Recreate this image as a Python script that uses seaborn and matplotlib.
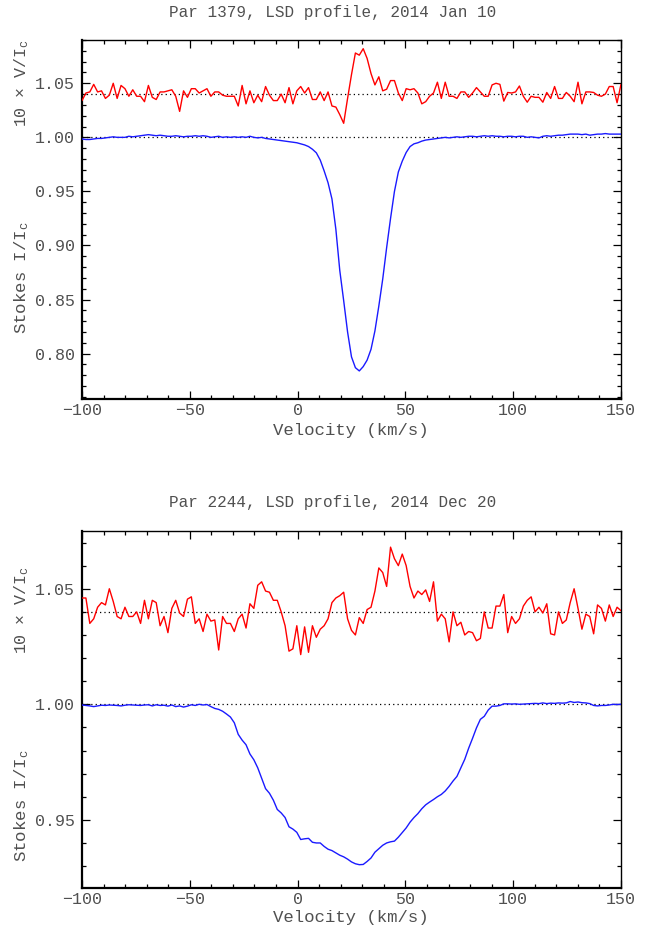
import numpy as np
import pandas as pd
import matplotlib
matplotlib.use("Agg")
import matplotlib.pyplot as plt
import seaborn as sns
from matplotlib.ticker import MultipleLocator, FormatStrFormatter

# ---------------- data ----------------
velocity = np.linspace(-100, 150, 139)   # km/s, LSD velocity grid

titles = ["Par 1379, LSD profile, 2014 Jan 10",
          "Par 2244, LSD profile, 2014 Dec 20"]

stokes_i_1 = [
    0.9985, 0.998, 0.998, 0.9985, 0.999, 0.999, 0.9995, 1.000, 1.0005, 1.000,
    1.000, 1.000, 1.001, 1.0005, 1.001, 1.0015, 1.002, 1.0025, 1.002, 1.0015,
    1.002, 1.0015, 1.001, 1.001, 1.0015, 1.001, 1.0005, 1.001, 1.001, 1.0015,
    1.001, 1.0015, 1.001, 1.000, 1.0005, 1.001, 1.000, 1.0005, 1.000, 1.0005,
    1.000, 1.0005, 1.000, 1.001, 1.000, 0.9995, 1.000, 0.999, 0.9985, 0.998,
    0.9975, 0.997, 0.9965, 0.996, 0.9955, 0.995, 0.994, 0.993, 0.9915, 0.989,
    0.9857, 0.979, 0.969, 0.958, 0.943, 0.915, 0.877, 0.849, 0.820, 0.797,
    0.787, 0.784, 0.788, 0.794, 0.804, 0.821, 0.844, 0.869, 0.898, 0.925,
    0.950, 0.968, 0.978, 0.986, 0.9915, 0.994, 0.995, 0.9965, 0.9975, 0.998,
    0.9985, 0.999, 0.9995, 1.000, 0.9995, 1.000, 1.0005, 1.000, 1.0005, 1.001,
    1.001, 1.0005, 1.001, 1.0015, 1.001, 1.0015, 1.001, 1.001, 1.0005, 1.001,
    1.001, 1.0005, 1.001, 1.001, 1.000, 1.0005, 1.000, 0.9995, 1.001, 1.0015,
    1.001, 1.0015, 1.002, 1.002, 1.0025, 1.003, 1.003, 1.003, 1.0025, 1.003,
    1.002, 1.0025, 1.003, 1.003, 1.0035, 1.003, 1.003, 1.003, 1.003]

stokes_v_1 = [
    1.034, 1.041, 1.042, 1.049, 1.042, 1.043, 1.036, 1.039, 1.050, 1.036,
    1.048, 1.045, 1.038, 1.044, 1.038, 1.038, 1.033, 1.048, 1.037, 1.035,
    1.042, 1.042, 1.043, 1.044, 1.038, 1.024, 1.043, 1.037, 1.045, 1.045,
    1.041, 1.043, 1.045, 1.038, 1.042, 1.042, 1.039, 1.038, 1.038, 1.038,
    1.029, 1.048, 1.031, 1.043, 1.032, 1.039, 1.033, 1.047, 1.039, 1.034,
    1.034, 1.040, 1.032, 1.046, 1.031, 1.043, 1.047, 1.041, 1.046, 1.035,
    1.035, 1.042, 1.034, 1.042, 1.029, 1.028, 1.021, 1.013, 1.036, 1.058,
    1.078, 1.076, 1.082, 1.073, 1.059, 1.0485, 1.056, 1.043, 1.0445, 1.0525,
    1.0525, 1.041, 1.034, 1.045, 1.044, 1.045, 1.041, 1.031, 1.033, 1.038,
    1.041, 1.051, 1.036, 1.051, 1.038, 1.038, 1.036, 1.042, 1.042, 1.037,
    1.041, 1.046, 1.042, 1.038, 1.038, 1.0485, 1.050, 1.049, 1.0335, 1.0415,
    1.041, 1.042, 1.0475, 1.038, 1.0325, 1.038, 1.037, 1.037, 1.0325, 1.0415,
    1.036, 1.047, 1.036, 1.036, 1.0415, 1.038, 1.033, 1.051, 1.031, 1.042,
    1.042, 1.0415, 1.039, 1.038, 1.040, 1.047, 1.047, 1.032, 1.049]

stokes_i_2 = [
    0.9997, 0.9995, 0.9993, 0.9990, 0.9993, 0.9996, 0.9995, 0.9997, 0.9996, 0.9995,
    0.9993, 0.9996, 0.9998, 0.9997, 0.9996, 0.9995, 0.9997, 0.9998, 0.9993, 0.9998,
    0.9995, 0.9996, 0.9992, 0.9997, 0.9990, 0.9993, 0.9988, 0.9992, 0.9998, 0.9995,
    1.0000, 0.9997, 0.9999, 0.9990, 0.9982, 0.9978, 0.9970, 0.9958, 0.9945, 0.9920,
    0.9870, 0.9845, 0.9825, 0.9785, 0.9760, 0.9725, 0.9680, 0.9635, 0.9615, 0.9585,
    0.9545, 0.9530, 0.9510, 0.9470, 0.9460, 0.9446, 0.9415, 0.9418, 0.9420, 0.9403,
    0.9400, 0.9400, 0.9385, 0.9373, 0.9367, 0.9357, 0.9347, 0.9340, 0.9330, 0.9318,
    0.9310, 0.9306, 0.9307, 0.9320, 0.9335, 0.9360, 0.9375, 0.9390, 0.9400, 0.9405,
    0.9408, 0.9425, 0.9445, 0.9465, 0.9490, 0.9510, 0.9527, 0.9548, 0.9565, 0.9577,
    0.9588, 0.9600, 0.9610, 0.9625, 0.9645, 0.9668, 0.9688, 0.9725, 0.9762, 0.9810,
    0.9853, 0.9898, 0.9935, 0.9948, 0.9975, 0.9992, 0.9992, 0.9995, 1.0002, 1.0002,
    1.0001, 1.0002, 1.0000, 1.0001, 1.0002, 1.0003, 1.0004, 1.0003, 1.0006, 1.0003,
    1.0005, 1.0004, 1.0006, 1.0005, 1.0006, 1.0012, 1.0008, 1.0010, 1.0007, 1.0006,
    1.0003, 0.9995, 0.9993, 0.9995, 0.9995, 0.9997, 1.0000, 0.9999, 1.0000]

stokes_v_2 = [
    1.046, 1.046, 1.035, 1.037, 1.042, 1.044, 1.043, 1.050, 1.0445, 1.038,
    1.037, 1.042, 1.038, 1.038, 1.040, 1.035, 1.045, 1.037, 1.045, 1.044,
    1.034, 1.038, 1.031, 1.0415, 1.045, 1.0395, 1.038, 1.0455, 1.0465, 1.035,
    1.037, 1.0315, 1.039, 1.036, 1.0365, 1.0235, 1.038, 1.035, 1.035, 1.0315,
    1.037, 1.039, 1.033, 1.0435, 1.0415, 1.0515, 1.053, 1.049, 1.0485, 1.045,
    1.045, 1.040, 1.034, 1.023, 1.024, 1.034, 1.0215, 1.0335, 1.0225, 1.034,
    1.029, 1.0325, 1.034, 1.037, 1.044, 1.046, 1.047, 1.0485, 1.037, 1.032,
    1.030, 1.0375, 1.035, 1.041, 1.042, 1.049, 1.059, 1.057, 1.051, 1.068,
    1.063, 1.060, 1.065, 1.060, 1.051, 1.046, 1.049, 1.0475, 1.0495, 1.0445,
    1.053, 1.036, 1.039, 1.037, 1.027, 1.040, 1.034, 1.0355, 1.030, 1.0315,
    1.031, 1.0275, 1.0285, 1.040, 1.033, 1.033, 1.0425, 1.0425, 1.0475, 1.031,
    1.038, 1.035, 1.037, 1.0425, 1.045, 1.0465, 1.040, 1.042, 1.0395, 1.0435,
    1.0305, 1.030, 1.040, 1.035, 1.0365, 1.044, 1.050, 1.0415, 1.0325, 1.039,
    1.038, 1.0305, 1.043, 1.0415, 1.036, 1.043, 1.038, 1.042, 1.0405]

y_limits = [(0.758, 1.090), (0.9205, 1.075)]
y_major = [0.05, 0.05]
ref_levels = [1.00, 1.04]

# ---------------- style ----------------
sns.set_style("ticks")
plt.rcParams['font.family'] = ['Liberation Mono', 'DejaVu Sans']
plt.rcParams['mathtext.fontset'] = 'custom'
plt.rcParams['mathtext.rm'] = 'Liberation Mono'
plt.rcParams['mathtext.it'] = 'Liberation Mono'

text_col = '#505050'

fig = plt.figure(figsize=(6.65, 9.33), dpi=100)
axes = [fig.add_axes([0.1233, 0.5723, 0.8105, 0.3848]),
        fig.add_axes([0.1233, 0.0482, 0.8105, 0.3827])]

datasets = [(stokes_i_1, stokes_v_1), (stokes_i_2, stokes_v_2)]
title_y = [0.987, 0.461]
xlabel_y = [0.539, 0.017]
vlabel_y = [0.911, 0.346]
ilabel_y = [0.703, 0.137]

for k, ax in enumerate(axes):
    si, sv = datasets[k]
    df = pd.DataFrame({'velocity': velocity, 'I': si, 'V': sv})
    for lvl in ref_levels:
        ax.axhline(lvl, color='black', ls=(0, (1, 2.5)), lw=0.9, zorder=1)
    sns.lineplot(data=df, x='velocity', y='V', color='#ff0000', lw=1.0,
                 ax=ax, estimator=None, sort=False, zorder=3)
    sns.lineplot(data=df, x='velocity', y='I', color='#1a1aff', lw=1.0,
                 ax=ax, estimator=None, sort=False, zorder=3)
    ax.set_xlim(-100, 150)
    ax.set_ylim(*y_limits[k])
    ax.set_xlabel('')
    ax.set_ylabel('')
    ax.xaxis.set_major_locator(MultipleLocator(50))
    ax.xaxis.set_minor_locator(MultipleLocator(10))
    ax.yaxis.set_major_locator(MultipleLocator(y_major[k]))
    ax.yaxis.set_minor_locator(MultipleLocator(0.01))
    ax.yaxis.set_major_formatter(FormatStrFormatter('%.2f'))
    ax.tick_params(which='both', direction='in', top=True, right=True,
                   width=0.9, color='black', labelcolor=text_col, labelsize=12)
    ax.tick_params(which='major', length=6)
    ax.tick_params(which='minor', length=3)
    ax.tick_params(axis='x', pad=3)
    ax.tick_params(axis='y', pad=5)
    for name, sp in ax.spines.items():
        sp.set_color('black')
        sp.set_linewidth(1.6 if name in ('left', 'bottom') else 1.0)

    fig.text(0.5, title_y[k], titles[k], ha='center', va='center',
             fontsize=11.5, color=text_col)
    fig.text(0.528, xlabel_y[k], 'Velocity (km/s)', ha='center', va='center',
             fontsize=12.5, color=text_col)
    fig.text(0.033, vlabel_y[k], '10 × V/I$_\\mathrm{c}$', rotation=90,
             ha='center', va='center', fontsize=12, color=text_col)
    fig.text(0.033, ilabel_y[k], 'Stokes I/I$_\\mathrm{c}$', rotation=90,
             ha='center', va='center', fontsize=12.5, color=text_col)

fig.savefig('out.png', dpi=100)
